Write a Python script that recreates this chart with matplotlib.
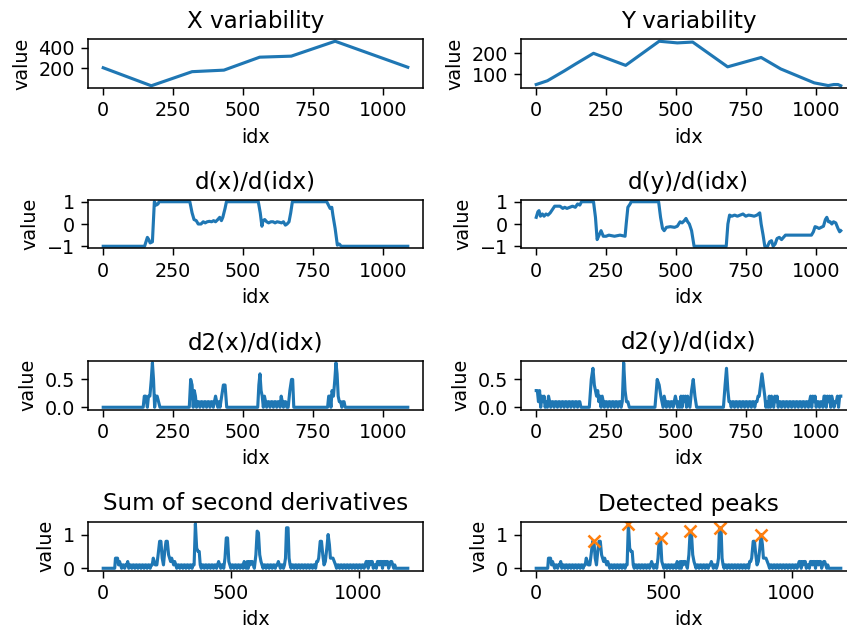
import numpy as np
import matplotlib
matplotlib.use("Agg")
import matplotlib.pyplot as plt

# ---------------- data: (idx, value) readings ----------------
x_var = [(0, 205), (172, 30), (318, 167), (432, 182), (560, 308), (673, 318), (830, 463), (1090, 210)]

y_var = [(0, 50), (40, 68), (100, 115), (140, 148), (205, 200), (320, 142), (440, 258), (505, 250),
         (560, 254), (685, 135), (805, 180), (875, 125), (995, 58), (1045, 45), (1065, 50),
         (1080, 50), (1090, 44)]

dx = [(0, -1), (148, -1), (153, -0.8), (158, -0.6), (163, -0.7), (168, -0.85), (176, -0.8),
      (183, 1.0), (190, 0.85), (196, 0.9), (200, 1.0), (310, 1.0), (318, 0.5), (325, 0.2),
      (333, 0.15), (340, 0.0), (350, 0.0), (358, 0.1), (365, 0.05), (372, 0.1), (380, 0.12),
      (388, 0.1), (395, 0.15), (402, 0.1), (410, 0.2), (417, 0.3), (423, 0.15), (428, 0.3),
      (436, 0.7), (441, 1.0), (555, 1.0), (562, 0.5), (568, -0.1), (572, 0.15), (578, 0.2),
      (585, 0.1), (592, 0.05), (600, 0.1), (608, 0.1), (615, 0.05), (622, 0.1), (630, 0.08),
      (638, 0.05), (645, 0.1), (652, -0.05), (658, 0.0), (665, 0.1), (671, 0.5), (677, 1.0),
      (800, 1.0), (806, 0.85), (812, 0.7), (818, 0.75), (822, 0.4), (830, -0.2), (838, -0.95),
      (845, -0.9), (852, -1.0), (1090, -1.0)]

dy = [(0, 0.3), (6, 0.55), (10, 0.6), (15, 0.35), (22, 0.45), (28, 0.35), (35, 0.45), (42, 0.4),
      (50, 0.5), (58, 0.65), (66, 0.8), (75, 0.8), (85, 0.8), (95, 0.7), (102, 0.75), (110, 0.7),
      (120, 0.75), (130, 0.8), (140, 0.75), (148, 0.9), (156, 0.85), (162, 1.0), (205, 1.0),
      (212, 0.3), (218, -0.7), (225, -0.5), (232, -0.3), (240, -0.55), (250, -0.55), (260, -0.5),
      (280, -0.55), (300, -0.5), (318, -0.55), (322, 0.0), (328, 0.75), (336, 0.9), (340, 1.0),
      (438, 1.0), (445, 0.3), (452, -0.2), (458, -0.3), (466, -0.15), (480, -0.12), (495, -0.15),
      (505, -0.1), (515, 0.1), (522, 0.05), (530, 0.15), (536, 0.25), (542, 0.1), (548, 0.0),
      (556, -0.3), (565, -1.0), (680, -1.0), (686, 0.0), (692, 0.4), (700, 0.35), (710, 0.4),
      (720, 0.35), (730, 0.4), (740, 0.45), (750, 0.35), (760, 0.4), (770, 0.38), (780, 0.35),
      (790, 0.4), (800, 0.5), (805, 0.0), (812, -0.5), (818, -1.0), (828, -1.0), (835, -0.8),
      (842, -0.75), (848, -1.0), (855, -0.9), (862, -0.65), (870, -0.6), (878, -0.7), (885, -0.6),
      (892, -0.5), (920, -0.5), (950, -0.5), (985, -0.5), (992, -0.35), (998, -0.12),
      (1005, -0.15), (1012, -0.2), (1020, -0.15), (1028, -0.1), (1035, 0.2), (1040, 0.3),
      (1046, 0.1), (1052, 0.1), (1058, 0.0), (1064, 0.1), (1072, 0.05), (1080, -0.2),
      (1086, -0.35), (1090, -0.3)]

d2x = [(0, 0), (143, 0.0), (147, 0.2), (152, 0.2), (158, 0.0), (162, 0.2), (167, 0.2), (172, 0.5),
       (176, 0.8), (180, 0.5), (184, 0.0), (188, 0.2), (193, 0.2), (198, 0.1), (203, 0.0),
       (308, 0.0), (313, 0.5), (318, 0.4), (322, 0.0), (326, 0.3), (330, 0.2), (334, 0.0),
       (338, 0.1), (342, 0.1), (346, 0.0), (350, 0.1), (354, 0.1), (358, 0.0), (362, 0.1),
       (366, 0.1), (370, 0.0), (374, 0.1), (378, 0.1), (382, 0.0), (386, 0.1), (390, 0.1),
       (394, 0.0), (398, 0.1), (402, 0.2), (406, 0.1), (410, 0.0), (414, 0.1), (418, 0.0),
       (424, 0.2), (430, 0.4), (436, 0.4), (442, 0.0), (553, 0.0), (557, 0.4), (561, 0.6),
       (565, 0.3), (569, 0.2), (573, 0.0), (577, 0.2), (581, 0.1), (585, 0.0), (589, 0.1),
       (593, 0.1), (597, 0.0), (601, 0.1), (605, 0.1), (609, 0.0), (613, 0.1), (617, 0.1),
       (621, 0.0), (625, 0.1), (629, 0.1), (633, 0.0), (637, 0.2), (641, 0.1), (645, 0.0),
       (649, 0.1), (653, 0.1), (657, 0.0), (662, 0.0), (668, 0.3), (674, 0.5), (678, 0.5),
       (682, 0.0), (803, 0.0), (807, 0.2), (811, 0.2), (815, 0.0), (819, 0.3), (824, 0.2),
       (829, 0.5), (833, 0.8), (837, 0.6), (841, 0.2), (845, 0.1), (850, 0.1), (854, 0.0),
       (858, 0.1), (862, 0.1), (866, 0.0), (1090, 0.0)]

d2y = [(0, 0.3), (4, 0.3), (8, 0.1), (12, 0.3), (16, 0.0), (20, 0.2), (24, 0.1), (28, 0.2),
       (32, 0.0), (36, 0.1), (40, 0.0), (44, 0.2), (48, 0.1), (52, 0.0), (56, 0.1), (60, 0.1),
       (64, 0.0), (68, 0.1), (72, 0.1), (76, 0.0), (80, 0.1), (84, 0.1), (88, 0.0), (92, 0.1),
       (96, 0.1), (100, 0.0), (104, 0.1), (108, 0.1), (112, 0.0), (116, 0.1), (120, 0.1),
       (124, 0.0), (128, 0.1), (132, 0.1), (136, 0.0), (140, 0.1), (144, 0.1), (148, 0.0),
       (152, 0.1), (156, 0.1), (160, 0.0), (190, 0.0), (197, 0.5), (203, 0.7), (208, 0.4),
       (212, 0.3), (216, 0.2), (220, 0.3), (224, 0.1), (228, 0.2), (232, 0.0), (236, 0.2),
       (240, 0.1), (244, 0.0), (248, 0.1), (252, 0.1), (256, 0.0), (260, 0.1), (264, 0.1),
       (268, 0.0), (272, 0.1), (276, 0.1), (280, 0.0), (284, 0.1), (288, 0.1), (292, 0.0),
       (296, 0.1), (300, 0.1), (304, 0.0), (308, 0.1), (313, 0.8), (318, 0.3), (323, 0.1),
       (328, 0.1), (333, 0.0), (425, 0.0), (433, 0.5), (440, 0.4), (446, 0.2), (450, 0.1),
       (454, 0.0), (458, 0.2), (462, 0.1), (466, 0.0), (470, 0.1), (474, 0.1), (478, 0.0),
       (482, 0.1), (486, 0.1), (490, 0.0), (494, 0.1), (498, 0.2), (502, 0.1), (506, 0.0),
       (510, 0.1), (514, 0.0), (518, 0.2), (522, 0.0), (526, 0.2), (530, 0.1), (534, 0.2),
       (538, 0.0), (542, 0.2), (546, 0.1), (550, 0.0), (556, 0.3), (562, 0.5), (568, 0.2),
       (574, 0.0), (670, 0.0), (676, 0.4), (681, 0.7), (686, 0.3), (690, 0.1), (694, 0.1),
       (698, 0.0), (702, 0.1), (706, 0.1), (710, 0.0), (714, 0.1), (718, 0.1), (722, 0.0),
       (726, 0.1), (730, 0.1), (734, 0.0), (738, 0.1), (742, 0.1), (746, 0.0), (750, 0.1),
       (754, 0.1), (758, 0.0), (762, 0.1), (766, 0.1), (770, 0.0), (774, 0.1), (778, 0.1),
       (782, 0.0), (786, 0.1), (790, 0.1), (794, 0.2), (798, 0.2), (803, 0.4), (808, 0.6),
       (813, 0.4), (818, 0.2), (822, 0.0), (826, 0.1), (830, 0.0), (834, 0.2), (838, 0.0),
       (842, 0.2), (846, 0.1), (850, 0.0), (854, 0.2), (858, 0.1), (862, 0.2), (866, 0.0),
       (870, 0.1), (874, 0.1), (878, 0.0), (882, 0.1), (886, 0.1), (890, 0.0), (894, 0.1),
       (898, 0.1), (902, 0.0), (906, 0.1), (910, 0.1), (914, 0.0), (918, 0.1), (922, 0.1),
       (926, 0.0), (930, 0.1), (934, 0.1), (938, 0.0), (942, 0.1), (946, 0.1), (950, 0.0),
       (954, 0.1), (958, 0.1), (962, 0.0), (966, 0.1), (970, 0.1), (974, 0.0), (978, 0.1),
       (982, 0.2), (986, 0.0), (990, 0.2), (994, 0.1), (998, 0.2), (1002, 0.0), (1006, 0.1),
       (1010, 0.1), (1014, 0.0), (1018, 0.1), (1022, 0.1), (1026, 0.0), (1030, 0.2), (1034, 0.2),
       (1038, 0.0), (1042, 0.2), (1046, 0.1), (1050, 0.2), (1054, 0.0), (1058, 0.2), (1062, 0.1),
       (1066, 0.0), (1070, 0.1), (1074, 0.1), (1078, 0.2), (1082, 0.0), (1086, 0.2), (1090, 0.2)]

d2_sum = [(0, 0), (45, 0.0), (48, 0.3), (56, 0.3), (60, 0.1), (64, 0.2), (68, 0.1), (72, 0.0),
          (76, 0.1), (80, 0.1), (84, 0.0), (88, 0.1), (92, 0.1), (96, 0.2), (100, 0.0), (104, 0.1),
          (108, 0.1), (112, 0.0), (116, 0.1), (120, 0.1), (124, 0.0), (128, 0.1), (132, 0.1),
          (136, 0.0), (140, 0.1), (144, 0.1), (148, 0.0), (152, 0.1), (156, 0.1), (160, 0.0),
          (164, 0.1), (168, 0.1), (172, 0.0), (176, 0.1), (180, 0.1), (184, 0.0), (188, 0.1),
          (192, 0.1), (196, 0.3), (200, 0.2), (204, 0.1), (210, 0.1), (215, 0.4), (221, 0.8),
          (226, 0.8), (231, 0.3), (236, 0.1), (241, 0.5), (246, 0.8), (251, 0.8), (256, 0.4),
          (260, 0.3), (264, 0.2), (268, 0.3), (272, 0.2), (276, 0.1), (280, 0.2), (284, 0.1),
          (288, 0.0), (292, 0.1), (296, 0.1), (300, 0.0), (304, 0.1), (308, 0.1), (312, 0.0),
          (316, 0.1), (320, 0.1), (324, 0.0), (328, 0.1), (332, 0.1), (336, 0.0), (340, 0.1),
          (344, 0.1), (348, 0.0), (352, 0.1), (356, 0.1), (361, 1.32), (366, 0.6), (371, 0.5),
          (376, 0.5), (380, 0.1), (384, 0.0), (388, 0.1), (392, 0.1), (396, 0.0), (400, 0.1),
          (404, 0.1), (408, 0.0), (412, 0.1), (416, 0.1), (420, 0.0), (424, 0.1), (428, 0.1),
          (432, 0.0), (436, 0.1), (440, 0.1), (444, 0.0), (448, 0.1), (452, 0.2), (456, 0.1),
          (460, 0.0), (464, 0.1), (468, 0.1), (472, 0.0), (477, 0.3), (482, 0.9), (487, 0.9),
          (492, 0.2), (496, 0.1), (500, 0.0), (504, 0.1), (508, 0.1), (512, 0.0), (516, 0.1),
          (520, 0.1), (524, 0.0), (528, 0.1), (532, 0.1), (536, 0.0), (540, 0.1), (544, 0.1),
          (548, 0.0), (552, 0.2), (556, 0.1), (560, 0.0), (564, 0.2), (568, 0.0), (572, 0.2),
          (576, 0.1), (580, 0.2), (584, 0.2), (588, 0.1), (592, 0.0), (598, 0.4), (603, 1.1),
          (608, 1.05), (613, 0.4), (618, 0.2), (622, 0.1), (626, 0.0), (630, 0.1), (634, 0.1),
          (638, 0.0), (642, 0.1), (646, 0.1), (650, 0.0), (654, 0.1), (658, 0.1), (662, 0.0),
          (666, 0.1), (670, 0.1), (674, 0.0), (678, 0.1), (682, 0.1), (686, 0.2), (690, 0.1),
          (694, 0.0), (698, 0.1), (702, 0.1), (706, 0.0), (710, 0.1), (714, 0.3), (718, 1.2),
          (724, 1.2), (728, 0.3), (732, 0.1), (736, 0.0), (740, 0.1), (744, 0.1), (748, 0.0),
          (752, 0.1), (756, 0.1), (760, 0.0), (764, 0.1), (768, 0.1), (772, 0.0), (776, 0.1),
          (780, 0.1), (784, 0.0), (788, 0.1), (792, 0.1), (796, 0.0), (800, 0.1), (804, 0.1),
          (808, 0.0), (812, 0.1), (816, 0.1), (820, 0.0), (824, 0.1), (828, 0.1), (832, 0.0),
          (836, 0.2), (840, 0.2), (844, 0.3), (850, 0.8), (855, 0.8), (860, 0.4), (865, 0.1),
          (870, 0.2), (876, 0.6), (881, 1.0), (886, 0.7), (890, 0.3), (895, 0.3), (900, 0.3),
          (905, 0.2), (910, 0.1), (914, 0.0), (918, 0.1), (922, 0.1), (926, 0.0), (930, 0.1),
          (934, 0.1), (938, 0.0), (942, 0.1), (946, 0.1), (950, 0.0), (954, 0.1), (958, 0.1),
          (962, 0.0), (966, 0.1), (970, 0.1), (974, 0.0), (978, 0.1), (982, 0.1), (986, 0.0),
          (990, 0.1), (994, 0.1), (998, 0.0), (1002, 0.1), (1006, 0.1), (1010, 0.0), (1014, 0.1),
          (1018, 0.1), (1022, 0.0), (1026, 0.1), (1030, 0.2), (1034, 0.2), (1038, 0.0),
          (1042, 0.2), (1046, 0.1), (1050, 0.2), (1054, 0.2), (1058, 0.0), (1062, 0.1),
          (1066, 0.1), (1070, 0.0), (1074, 0.2), (1078, 0.2), (1082, 0.1), (1086, 0.2),
          (1090, 0.2), (1094, 0.0), (1098, 0.2), (1102, 0.2), (1106, 0.1), (1110, 0.2),
          (1114, 0.2), (1118, 0.0), (1122, 0.1), (1126, 0.2), (1130, 0.2), (1134, 0.1),
          (1138, 0.0), (1142, 0.1), (1146, 0.0), (1193, 0.0)]

peak_idx = [226, 361, 487, 603, 721, 881]

titles = ["X variability", "Y variability", "d(x)/d(idx)", "d(y)/d(idx)",
          "d2(x)/d(idx)", "d2(y)/d(idx)", "Sum of second derivatives", "Detected peaks"]

# ---------------- figure ----------------
plt.rcParams["font.size"] = 10.45
plt.rcParams["xtick.major.size"] = 3.7
plt.rcParams["ytick.major.size"] = 3.7
plt.rcParams["axes.linewidth"] = 0.85

W, H, DPI = 847, 630, 132
fig = plt.figure(figsize=(W / DPI, H / DPI), dpi=DPI)

col_x = [88, 521]
ax_w = 335
row_top = [39, 199.5, 360.5, 521.5]
ax_h = 49


def make_ax(r, c):
    left = col_x[c] / W
    bottom = 1 - (row_top[r] + ax_h) / H
    return fig.add_axes([left, bottom, ax_w / W, ax_h / H])


series = [x_var, y_var, dx, dy, d2x, d2y, d2_sum, d2_sum]

for k, pairs in enumerate(series):
    r, c = divmod(k, 2)
    ax = make_ax(r, c)
    xi = [p[0] for p in pairs]
    yi = [p[1] for p in pairs]
    ax.plot(xi, yi, color="C0", lw=1.7)
    if k == 7:
        pv = np.interp(peak_idx, xi, yi)
        ax.plot(peak_idx, pv, "x", color="C1", ms=7, mew=1.4)
    ax.set_title(titles[k])
    ax.set_xlabel("idx")
    ax.set_ylabel("value")
    if k in (2, 3):
        ax.set_yticks([-1, 0, 1])
    if k in (4, 5):
        ax.set_yticks([0.0, 0.5])
    if k >= 6:
        ax.set_xticks([0, 500, 1000])

fig.savefig("out.png", dpi=DPI)
